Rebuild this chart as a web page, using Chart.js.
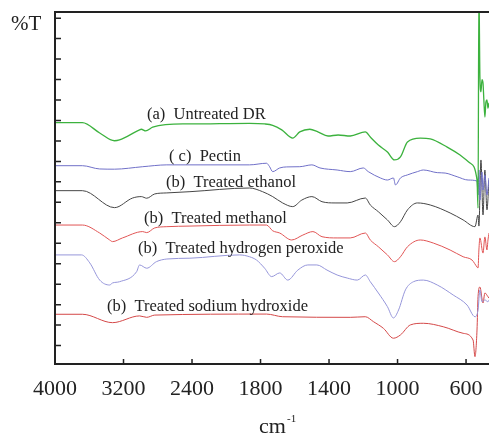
<!DOCTYPE html>
<html>
<head>
<meta charset="utf-8">
<script src="https://cdn.jsdelivr.net/npm/chart.js@4.4.1/dist/chart.umd.min.js"></script>
<style>
    html, body { margin: 0; padding: 0; background: #ffffff; }
    #wrap { width: 489px; height: 435px; }
</style>
</head>
<body>
<div id="wrap"><canvas id="ftirChart" width="489" height="435"></canvas></div>
<script>
// Tick labels of the wavenumber axis (the axis is stretched below 2000 cm-1)
const tickLabels = ['4000', '3200', '2400', '1800', '1400', '1000', '600'];
const tickWavenumbers = [4000, 3200, 2400, 1800, 1400, 1000, 600];

// Series: wavenumbers (cm-1) and %T in arbitrary offset units
const untreatedWn = [4000, 3680, 3478, 3305, 3247, 3012, 2992, 2941, 2859, 2506, 2424, 1896, 1776, 1729, 1676, 1612, 1571, 1512, 1465, 1406, 1347, 1276, 1188, 1159, 1112, 1059, 1018, 983, 942, 867, 809, 710, 635, 577, 536, 530, 525, 519, 513, 507, 501, 496, 490, 484, 478, 472, 466];
const untreatedT  = [11.89, 11.89, 11.39, 11.01, 11.05, 11.54, 11.57, 11.49, 11.67, 11.83, 11.83, 11.86, 11.83, 11.76, 11.54, 11.14, 11.44, 11.57, 11.44, 11.24, 11.29, 11.24, 11.44, 11.19, 10.80, 10.46, 10.07, 10.22, 10.95, 11.14, 11.10, 10.70, 10.31, 9.92, 9.09, 7.72, 18.5, 14.1, 13.4, 14.0, 13.83, 13.0, 12.17, 12.9, 13.0, 12.6, 12.86];

const pectinWn = [4000, 3680, 3478, 3305, 2976, 2694, 2424, 1896, 1765, 1747, 1729, 1688, 1647, 1571, 1500, 1453, 1353, 1276, 1200, 1171, 1100, 1059, 1024, 1012, 983, 942, 884, 849, 768, 722, 652, 588, 536, 530, 525, 519, 507, 501, 490, 478, 466];
const pectinT  = [9.79, 9.79, 9.63, 9.62, 9.74, 9.83, 9.83, 9.83, 9.91, 9.74, 9.50, 9.68, 9.73, 9.74, 9.83, 9.68, 9.58, 9.50, 9.68, 9.50, 9.19, 9.09, 9.19, 8.85, 9.19, 9.34, 9.50, 9.58, 9.45, 9.43, 9.25, 9.09, 9.04, 8.36, 9.58, 8.11, 9.48, 8.6, 9.34, 8.36, 9.19];

const ethanolWn = [4000, 3680, 3305, 3094, 2992, 2929, 2835, 2694, 2424, 1896, 1788, 1729, 1671, 1612, 1559, 1500, 1441, 1365, 1294, 1188, 1159, 1112, 1059, 1018, 983, 942, 884, 809, 693, 617, 548, 530, 525, 513, 501, 490, 478, 466];
const ethanolT  = [8.57, 8.57, 7.74, 8.21, 8.28, 8.20, 8.41, 8.46, 8.52, 8.70, 8.52, 8.28, 7.97, 7.79, 8.11, 8.28, 8.03, 7.97, 7.97, 8.21, 7.87, 7.54, 7.14, 6.81, 7.05, 7.63, 7.97, 7.87, 7.48, 7.14, 6.81, 7.38, 6.84, 10.07, 7.38, 9.58, 7.63, 9.09];

const methanolWn = [4000, 3680, 3478, 3362, 3328, 3212, 2976, 2929, 2835, 2694, 2424, 1896, 1765, 1729, 1688, 1618, 1553, 1494, 1441, 1353, 1276, 1188, 1159, 1112, 1059, 1018, 983, 942, 867, 791, 693, 617, 565, 536, 530, 525, 519, 501, 490, 478, 472, 466];
const methanolT  = [6.89, 6.89, 6.50, 6.16, 6.08, 6.26, 6.57, 6.52, 6.75, 6.81, 6.84, 6.89, 6.89, 6.61, 6.50, 6.16, 6.40, 6.57, 6.32, 6.26, 6.26, 6.50, 6.16, 5.83, 5.43, 5.10, 5.34, 5.83, 6.16, 6.01, 5.67, 5.34, 5.18, 4.84, 4.79, 5.67, 6.26, 5.52, 6.31, 5.67, 6.16, 6.50];

const peroxideWn = [4000, 3690, 3594, 3478, 3362, 3328, 3247, 3047, 3012, 2929, 2816, 2694, 2424, 1983, 1896, 1835, 1776, 1735, 1688, 1641, 1582, 1524, 1471, 1412, 1353, 1294, 1235, 1188, 1159, 1112, 1059, 1024, 994, 954, 907, 849, 768, 675, 594, 548, 530, 519, 507, 490, 472, 466];
const peroxideT  = [5.43, 5.43, 5.04, 4.20, 3.96, 4.06, 4.12, 4.61, 4.94, 4.78, 5.10, 5.23, 5.27, 5.43, 5.34, 5.18, 4.78, 4.37, 4.55, 4.20, 4.69, 4.94, 4.94, 4.69, 4.45, 4.30, 4.20, 4.45, 4.12, 3.57, 2.90, 2.35, 2.74, 3.72, 4.12, 4.20, 3.96, 3.47, 2.98, 2.41, 2.74, 3.72, 3.14, 3.23, 3.14, 3.23];

const hydroxideWn = [4000, 3680, 3328, 3012, 2929, 2835, 1765, 1671, 1276, 1188, 1141, 1082, 1024, 983, 925, 849, 733, 617, 559, 548, 536, 530, 519, 501, 490, 472, 466];
const hydroxideT  = [2.53, 2.53, 2.12, 2.45, 2.38, 2.49, 2.54, 2.41, 2.38, 2.41, 2.17, 1.84, 1.36, 1.52, 2.01, 2.09, 1.92, 1.60, 1.27, 0.46, 1.76, 3.39, 3.86, 3.08, 3.57, 3.39, 3.32];

// Curve captions, written inside the plot
const captions = ['(a)  Untreated DR', '( c)  Pectin', '(b)  Treated ethanol', '(b)  Treated methanol', '(b)  Treated hydrogen peroxide', '(b)  Treated sodium hydroxide'];
const captionPos = [[147, 115], [169, 157], [166, 183], [144, 219], [138, 249], [107, 307]];

const serif = '"Liberation Serif", "DejaVu Serif", serif';
const ink = '#222222';

// Map a wavenumber onto the evenly spaced tick index axis
function toAxis(wn) {
    for (let i = 0; i < tickWavenumbers.length - 1; i++) {
        const hi = tickWavenumbers[i], lo = tickWavenumbers[i + 1];
        if (wn <= hi && wn >= lo) return i + (hi - wn) / (hi - lo);
    }
    return 6 + (600 - wn) / 400;
}

function toPoints(wn, t) {
    return wn.map((w, i) => ({ x: toAxis(w), y: t[i] }));
}

function series(label, wn, t, color, width) {
    return {
        label: label,
        data: toPoints(wn, t),
        borderColor: color,
        borderWidth: width,
        pointRadius: 0,
        cubicInterpolationMode: 'monotone',
        fill: false
    };
}

// Frame, inward ticks, captions and axis titles
const framePlugin = {
    id: 'frame',
    afterDraw(chart) {
        const ctx = chart.ctx;
        const area = chart.chartArea;
        const xs = chart.scales.x, ys = chart.scales.y;
        ctx.save();
        ctx.strokeStyle = ink;
        ctx.lineWidth = 2;
        ctx.beginPath();
        ctx.moveTo(area.right, area.top);
        ctx.lineTo(area.left, area.top);
        ctx.lineTo(area.left, area.bottom);
        ctx.lineTo(area.right, area.bottom);
        ctx.stroke();

        ctx.lineWidth = 1.5;
        ctx.beginPath();
        for (let v = 1; v <= 17; v++) {
            const py = ys.getPixelForValue(v);
            ctx.moveTo(area.left, py);
            ctx.lineTo(area.left + 6, py);
        }
        for (let u = 1; u < tickLabels.length; u++) {
            const px = xs.getPixelForValue(u);
            ctx.moveTo(px, area.bottom);
            ctx.lineTo(px, area.bottom - 5);
        }
        ctx.stroke();

        ctx.fillStyle = ink;
        ctx.textBaseline = 'middle';
        ctx.textAlign = 'left';
        ctx.font = '16.5px ' + serif;
        captions.forEach((c, i) => ctx.fillText(c, captionPos[i][0], captionPos[i][1]));

        ctx.font = '21px ' + serif;
        ctx.fillText('%T', 11, 24);

        ctx.textBaseline = 'alphabetic';
        ctx.font = '22px ' + serif;
        ctx.fillText('cm', 259, 433);
        ctx.font = '11px ' + serif;
        ctx.fillText('-1', 287, 422);
        ctx.restore();
    }
};

document.addEventListener('DOMContentLoaded', function() {
    const ctx = document.getElementById('ftirChart').getContext('2d');
    new Chart(ctx, {
        type: 'line',
        data: {
            datasets: [
                series('Untreated DR', untreatedWn, untreatedT, 'rgb(60, 178, 62)', 1.3),
                series('Pectin', pectinWn, pectinT, 'rgb(112, 112, 200)', 1),
                series('Treated ethanol', ethanolWn, ethanolT, 'rgb(70, 70, 70)', 1),
                series('Treated methanol', methanolWn, methanolT, 'rgb(225, 85, 85)', 1),
                series('Treated hydrogen peroxide', peroxideWn, peroxideT, 'rgb(150, 150, 218)', 1),
                series('Treated sodium hydroxide', hydroxideWn, hydroxideT, 'rgb(212, 72, 72)', 1)
            ]
        },
        options: {
            responsive: false,
            animation: false,
            layout: { padding: { top: 12, left: 0, right: 0, bottom: 0 } },
            plugins: {
                legend: { display: false },
                tooltip: { enabled: false }
            },
            scales: {
                x: {
                    type: 'linear',
                    min: 0,
                    max: toAxis(466),
                    grid: { display: false, drawTicks: false },
                    border: { display: false },
                    afterBuildTicks: function(scale) {
                        scale.ticks = tickLabels.map((_, i) => ({ value: i }));
                    },
                    afterFit: function(scale) {
                        scale.height = 71;
                        // the last label sits well inside the plot, no extra room needed
                        scale.paddingRight = 0;
                    },
                    ticks: {
                        autoSkip: false,
                        maxRotation: 0,
                        padding: 12,
                        color: ink,
                        font: { family: serif, size: 22 },
                        callback: function(value, index) { return tickLabels[index]; }
                    }
                },
                y: {
                    min: 0.1,
                    max: 17.3,
                    grid: { display: false, drawTicks: false },
                    border: { display: false },
                    ticks: { display: false, stepSize: 1 },
                    afterFit: function(scale) { scale.width = 55; }
                }
            }
        },
        plugins: [framePlugin]
    });
});
</script>
</body>
</html>
